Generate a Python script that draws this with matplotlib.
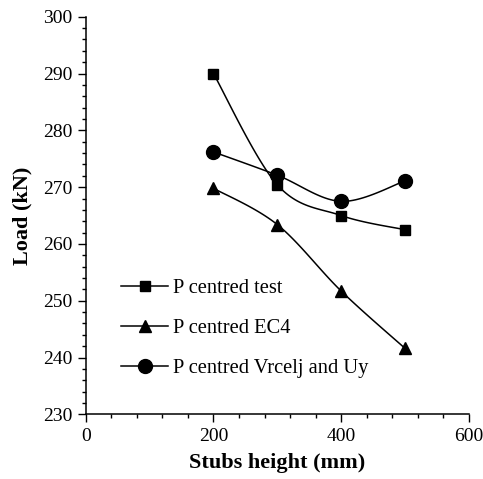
import numpy as np
import matplotlib.pyplot as plt
from matplotlib.ticker import MultipleLocator

plt.rcParams['font.family'] = ['Liberation Serif', 'DejaVu Serif']

heights = [200, 300, 400, 500]
load_test = [290.0, 270.4, 265.0, 262.5]
load_ec4 = [269.8, 263.4, 251.7, 241.6]
load_vrcelj = [276.2, 272.1, 267.5, 271.1]

labels = ['P centred test', 'P centred EC4', 'P centred Vrcelj and Uy']
markers = ['s', '^', 'o']
msizes = [6.5, 8.5, 10]


def smooth(xs, ys, n=30):
    # cubic bezier through the points, spreadsheet-style smoothing
    x = np.asarray(xs, float)
    y = np.asarray(ys, float)
    px = np.concatenate([[x[0]], x, [x[-1]]])
    py = np.concatenate([[y[0]], y, [y[-1]]])
    ox, oy = [], []
    t = np.linspace(0, 1, n)
    for i in range(1, len(x)):
        p0 = np.array([px[i], py[i]])
        p3 = np.array([px[i + 1], py[i + 1]])
        c1 = p0 + (np.array([px[i + 1], py[i + 1]]) - np.array([px[i - 1], py[i - 1]])) / 6
        c2 = p3 - (np.array([px[i + 2], py[i + 2]]) - np.array([px[i], py[i]])) / 6
        b = ((1 - t) ** 3)[:, None] * p0 + (3 * (1 - t) ** 2 * t)[:, None] * c1 \
            + (3 * (1 - t) * t ** 2)[:, None] * c2 + (t ** 3)[:, None] * p3
        ox.extend(b[:, 0])
        oy.extend(b[:, 1])
    return ox, oy


fig = plt.figure(figsize=(4.83, 4.79), dpi=100)
ax = fig.add_axes([0.1774, 0.135, 0.7936, 0.830])

for ys, lab, m, ms in zip([load_test, load_ec4, load_vrcelj], labels, markers, msizes):
    sx, sy = smooth(heights, ys)
    ax.plot(sx, sy, color='black', lw=1.1)
    ax.plot(heights, ys, ls='none', marker=m, ms=ms, color='black')
    ax.plot([], [], color='black', lw=1.1, marker=m, ms=ms, label=lab)

ax.set_xlim(0, 600)
ax.set_ylim(230, 300)
ax.xaxis.set_major_locator(MultipleLocator(200))
ax.xaxis.set_minor_locator(MultipleLocator(40))
ax.yaxis.set_major_locator(MultipleLocator(10))
ax.yaxis.set_minor_locator(MultipleLocator(2))
ax.tick_params(which='both', direction='out', width=1, labelsize=14, colors='black')
ax.tick_params(which='major', length=5.5, pad=4)
ax.tick_params(which='minor', length=3)
for s in ['top', 'right']:
    ax.spines[s].set_visible(False)
for s in ['left', 'bottom']:
    ax.spines[s].set_linewidth(1.1)

ax.set_xlabel('Stubs height (mm)', fontsize=16, fontweight='bold', labelpad=6)
ax.set_ylabel('Load (kN)', fontsize=16, fontweight='bold', labelpad=8)

ax.legend(loc='lower left', bbox_to_anchor=(0.092, 0.092), frameon=False,
          fontsize=14.8, handlelength=2.3, labelspacing=1.0, handletextpad=0.25,
          borderaxespad=0, borderpad=0)

fig.savefig('out.png', dpi=100)
